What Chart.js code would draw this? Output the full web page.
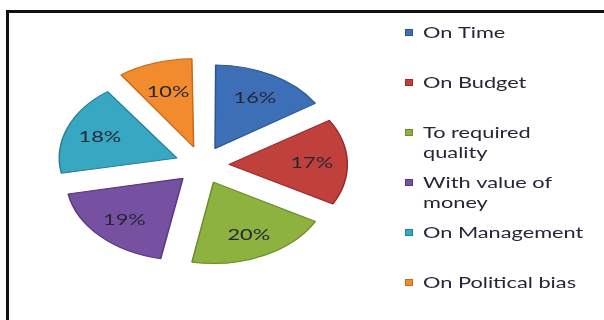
<!DOCTYPE html>
<html>
<head>
<meta charset="utf-8">
<script src="https://cdn.jsdelivr.net/npm/chart.js@4"></script>
<style>
  html, body { margin: 0; padding: 0; background: #fff; }
  #wrap { width: 604px; height: 320px; position: relative; }
</style>
</head>
<body>
<div id="wrap"><canvas id="pie" width="604" height="320"></canvas></div>
<script>
const categories = ['On Time', 'On Budget', 'To required quality', 'With value of money', 'On Management', 'On Political bias'];
const shares = [16, 17, 20, 19, 18, 10];
const fills = ['#3D6FB6', '#C0403C', '#8DB23F', '#7651A1', '#38A8C2', '#F28B2D'];
const edges = ['#2B5592', '#96292A', '#6C8C2A', '#58397E', '#237F96', '#C96A16'];

// pie is squashed vertically so it reads like a tilted disc
const squash = 0.7;
const pieCenter = { x: 202, y: 165 };
const textFont = '16px Lato';
const textColor = '#262636';
const stretch = 1.36;

function wideText(ctx, text, x, y) {
    ctx.save();
    ctx.translate(x, y);
    ctx.scale(stretch, 1);
    ctx.fillText(text, 0, 0);
    ctx.restore();
}

function wrapWords(ctx, text, maxWidth) {
    const lines = [];
    let line = '';
    for (const word of text.split(' ')) {
        const next = line ? line + ' ' + word : word;
        if (line && ctx.measureText(next).width * stretch > maxWidth) {
            lines.push(line);
            line = word;
        } else {
            line = next;
        }
    }
    lines.push(line);
    return lines;
}

const frame = {
    id: 'frame',
    beforeDraw(chart) {
        const ctx = chart.ctx;
        ctx.save();
        ctx.fillStyle = '#111';
        ctx.fillRect(6, 10, 598, 3);
        ctx.fillRect(6, 10, 3, 310);
        ctx.restore();
    }
};

const tilt = {
    id: 'tilt',
    beforeDatasetsDraw(chart) {
        const arc = chart.getDatasetMeta(0).data[0];
        const ctx = chart.ctx;
        ctx.save();
        ctx.translate(pieCenter.x, pieCenter.y);
        ctx.scale(1, squash);
        ctx.translate(-arc.x, -arc.y);
    },
    afterDatasetsDraw(chart) {
        const ctx = chart.ctx;
        ctx.restore();

        // percentage labels inside each slice
        const meta = chart.getDatasetMeta(0);
        ctx.save();
        ctx.font = textFont;
        ctx.fillStyle = textColor;
        ctx.textAlign = 'center';
        ctx.textBaseline = 'middle';
        meta.data.forEach((arc, i) => {
            const mid = (arc.startAngle + arc.endAngle) / 2;
            const r = arc.options.offset / 4 + arc.outerRadius * 0.72;
            const x = pieCenter.x + Math.cos(mid) * r;
            const y = pieCenter.y + Math.sin(mid) * r * squash;
            wideText(ctx, shares[i] + '%', x, y);
        });
        ctx.restore();
    }
};

// legend on the right, one entry every 50px, long names wrap
const sideLegend = {
    id: 'sideLegend',
    afterDraw(chart) {
        const ctx = chart.ctx;
        ctx.save();
        ctx.font = textFont;
        ctx.textBaseline = 'middle';
        ctx.textAlign = 'left';
        categories.forEach((name, i) => {
            const y = 33 + i * 50;
            ctx.fillStyle = fills[i];
            ctx.fillRect(405, y - 4, 8, 7);
            ctx.strokeStyle = edges[i];
            ctx.lineWidth = 1;
            ctx.strokeRect(405.5, y - 3.5, 7, 6);
            ctx.fillStyle = textColor;
            wrapWords(ctx, name, 166).forEach((line, j) => {
                wideText(ctx, line, 423, y + j * 20);
            });
        });
        ctx.restore();
    }
};

new Chart(document.getElementById('pie'), {
    type: 'pie',
    data: {
        labels: categories,
        datasets: [{
            data: shares,
            backgroundColor: fills,
            borderColor: edges,
            borderWidth: 1.5,
            offset: 108,
            hoverOffset: 0,
            radius: 115
        }]
    },
    options: {
        responsive: false,
        animation: false,
        events: [],
        layout: { padding: { left: 10, right: 200, top: 0, bottom: 0 } },
        plugins: {
            legend: { display: false },
            tooltip: { enabled: false }
        }
    },
    plugins: [frame, tilt, sideLegend]
});
</script>
</body>
</html>
